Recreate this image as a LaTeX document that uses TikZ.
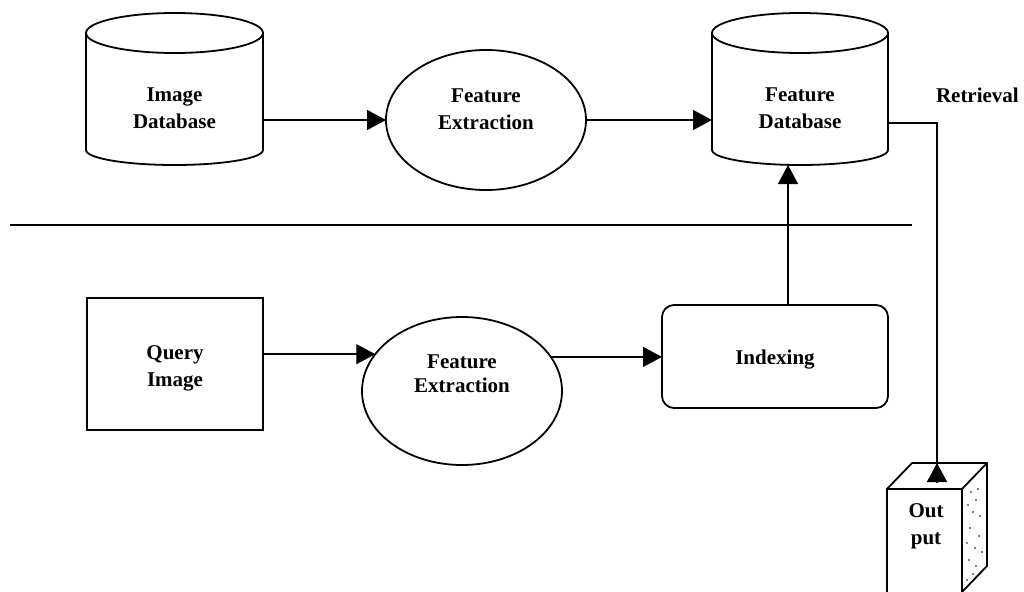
\documentclass[tikz,border=0pt]{standalone}
\usepackage{fontspec}
\setmainfont{Liberation Serif}
\usetikzlibrary{arrows.meta,shapes.geometric}
\begin{document}
\begin{tikzpicture}[x=1pt,y=-1pt,
  shapeline/.style={line width=1.8pt},
  arr/.style={line width=1.4pt,-{Triangle[length=19pt,width=20pt]}},
  plain/.style={line width=1.4pt},
  lbl/.style={font=\fontsize{21}{27}\selectfont\bfseries,align=center,inner sep=0pt,outer sep=0pt},
  cylbody/.style={lbl,minimum width=177pt,minimum height=20pt},
  ovalbox/.style={ellipse,draw,shapeline,inner sep=0pt,outer sep=0pt,minimum width=200pt},
  sqbox/.style={rectangle,draw,shapeline,inner sep=0pt,outer sep=0pt},
  rndbox/.style={rectangle,draw,shapeline,inner sep=0pt,outer sep=0pt,rounded corners=12pt}
]
\useasboundingbox[fill=white] (0,0) rectangle (1024,591);

% Image Database cylinder
\node[cylbody] (imgdb) at (174.5,108.5) {Image\\Database};
\draw[shapeline] (86,33) -- (86,150) arc[start angle=180,end angle=360,x radius=88.5pt,y radius=15pt] -- (263,33);
\draw[shapeline] (174.5,33) ellipse[x radius=88.5pt,y radius=20pt];

% Feature Extraction (top)
\node[ovalbox,minimum height=140pt] (fe1) at (486,120) {};
\node[lbl] (fe1txt) at (486,109.5) {Feature\\Extraction};

% Feature Database cylinder
\node[cylbody,minimum width=176pt] (fdb) at (800,108.5) {Feature\\Database};
\draw[shapeline] (712,33) -- (712,150) arc[start angle=180,end angle=360,x radius=88pt,y radius=15pt] -- (888,33);
\draw[shapeline] (800,33) ellipse[x radius=88pt,y radius=20pt];
\coordinate (fdbbot) at (788,165);

\node[lbl,anchor=west] (retr) at (936,95) {Retrieval};

% separator
\coordinate (sepL) at (10,225);
\coordinate (sepR) at (912,225);
\draw[line width=1.6pt] (sepL) -- (sepR);

% bottom row
\node[sqbox,minimum width=176pt,minimum height=132pt] (qi) at (175,364) {};
\node[lbl] (qitxt) at (175,368.5) {Query\\Image};
\node[ovalbox,minimum height=148pt] (fe2) at (462,391) {};
\node[lbl,font=\fontsize{21}{24}\selectfont\bfseries] (fe2txt) at (462,374) {Feature\\Extraction};
\node[rndbox,minimum width=226pt,minimum height=103pt] (idx) at (775,356.5) {};
\node[lbl] (idxtxt) at (775,360) {Indexing};

% Output box
\node[rectangle,draw,shapeline,inner sep=0pt,outer sep=0pt,minimum width=75pt,minimum height=104pt,anchor=north west] (out) at (887,489) {};
\node[lbl] (outtxt) at (926,526) {Out\\put};
\coordinate (outtop) at (937,463);
\draw[shapeline,line join=round] (out.north west) -- (912,463) -- (987,463) -- (out.north east);
\draw[shapeline,line join=round] (987,463) -- (987,566) -- (962,592);
\foreach \p in {(971,492),(978,489),(976,500),(968,505),(973,512),(980,516),(970,528),(967,543),(975,548),(982,552),(969,560),(976,566),(973,574),(967,580),(979,536)}
  \fill \p circle (0.8pt);

% connectors
\draw[arr] (imgdb.east |- fe1.west) -- (fe1.west);
\draw[arr] (fe1.east) -- (fdb.west |- fe1.east);
\draw[arr] (qi.east |- fe2.157.6) -- (fe2.157.6);
\draw[arr] (fe2.21) -- (idx.west |- fe2.21);
\draw[arr] (idx.north -| fdbbot) -- (fdbbot);
\draw[plain] (fdb.east |- 0,123) -- (outtop |- 0,123) -- ([yshift=-19pt]outtop);
\draw[arr] ([yshift=-20pt]outtop) -- (outtop);
\end{tikzpicture}
\end{document}
